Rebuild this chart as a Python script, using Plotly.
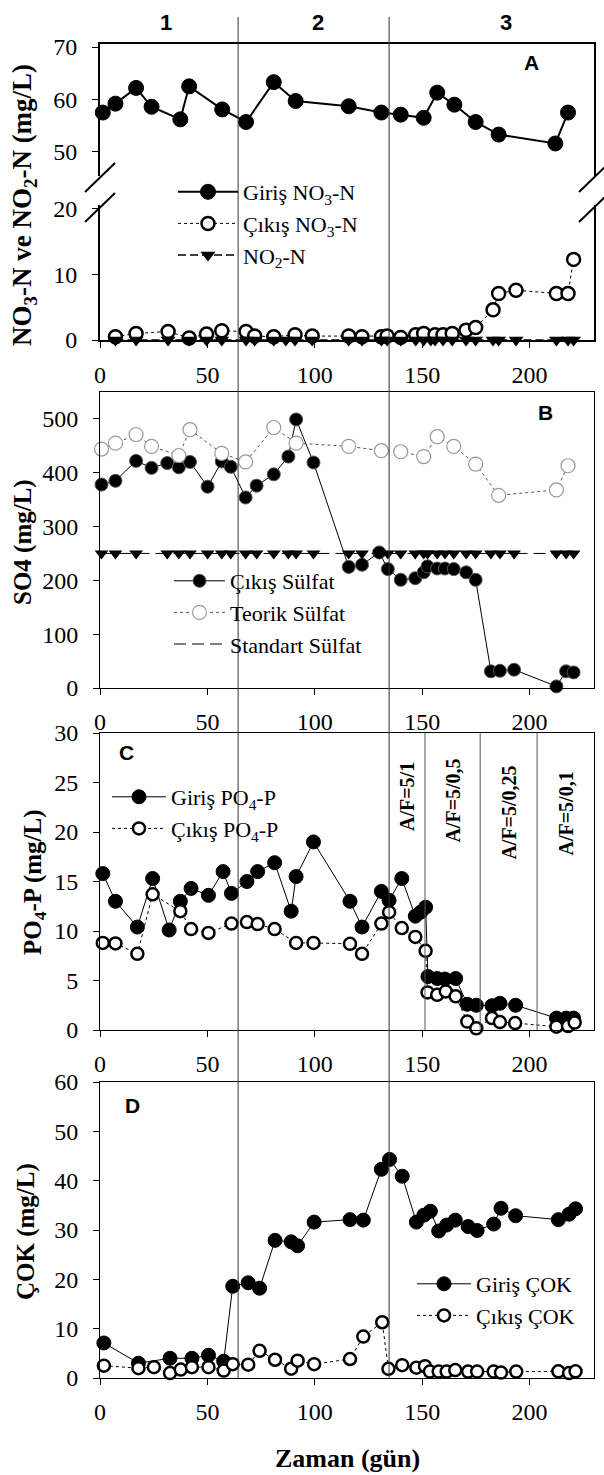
import plotly.graph_objects as go

# ---------------- data ----------------
x_max = 230
x_ticks = [0, 50, 100, 150, 200]
phase_bounds = [64.3, 134.6]          # days separating periods 1 | 2 | 3
phase_labels = ["1", "2", "3"]
af_bounds = [151.3, 177.0, 203.5]     # A/F ratio changes inside period 3
af_labels = ["A/F=5/1", "A/F=5/0,5", "A/F=5/0,25", "A/F=5/0,1"]

# Panel A : NO3-N / NO2-N
a_in_days = [1.3, 7.2, 16.8, 24.0, 37.4, 41.5, 56.9, 68.0, 80.9, 91.1, 115.8, 131.0,
             140.0, 150.7, 157.0, 165.0, 174.9, 185.6, 212.0, 217.9]
a_in_no3 = [57.5, 59.2, 62.2, 58.6, 56.2, 62.5, 58.1, 55.7, 63.3, 59.7, 58.7, 57.5,
            57.1, 56.5, 61.3, 59.0, 55.7, 53.3, 51.6, 57.5]
a_out_days = [7.2, 16.8, 31.7, 41.5, 49.6, 56.7, 68.0, 72.0, 80.9, 90.8, 98.8, 115.8,
              122.0, 131.0, 133.7, 140.0, 147.0, 150.7, 156.0, 159.7, 164.0, 170.4,
              174.9, 183.0, 185.6, 193.7, 212.5, 217.9, 220.5]
a_out_no3 = [0.5, 1.0, 1.3, 0.3, 0.9, 1.4, 1.3, 0.6, 0.5, 0.8, 0.6, 0.6,
             0.5, 0.5, 0.6, 0.4, 0.8, 1.0, 0.8, 0.8, 1.0, 1.5,
             1.9, 4.6, 7.1, 7.6, 7.1, 7.1, 12.3]
a_no2_days = [7.2, 16.8, 31.7, 41.5, 49.6, 56.7, 68.0, 72.0, 80.9, 86.5, 90.8, 98.8,
              115.8, 122.0, 131.0, 133.7, 140.0, 147.0, 150.7, 154.0, 156.0, 159.7,
              164.0, 170.4, 174.9, 183.0, 185.6, 193.7, 212.5, 217.9, 220.5]
a_no2 = [0, 0, 0, 0, 0, 0, 0, 0, 0, 0, 0, 0,
         0, 0, 0, 0, 0, 0, 0, 0, 0, 0,
         0, 0, 0, 0, 0, 0, 0, 0, 0]

# Panel B : SO4
b_out_days = [0.7, 7.2, 16.8, 24.0, 31.3, 36.7, 41.9, 50.1, 56.7, 60.9, 67.8, 72.9,
              80.9, 87.7, 91.3, 99.4, 115.8, 122.0, 130.0, 134.0, 140.0, 146.8,
              150.7, 152.5, 157.0, 160.6, 164.7, 170.5, 174.9, 182.0, 186.2, 192.8,
              212.5, 217.0, 220.5]
b_out_so4 = [378, 385, 422, 409, 418, 410, 420, 374, 421, 411, 354, 376,
             397, 430, 499, 419, 225, 229, 252, 221, 201, 204,
             215, 226, 222, 222, 221, 215, 201, 31, 32, 34,
             3, 31, 29]
b_theo_days = [0.7, 7.2, 16.8, 24.0, 36.7, 41.9, 56.7, 67.8, 80.9, 91.3, 115.8, 131.0,
               140.0, 150.7, 157.0, 164.7, 174.9, 185.6, 212.5, 217.9]
b_theo_so4 = [444, 455, 471, 449, 432, 480, 436, 420, 484, 455, 449, 441,
              439, 430, 467, 449, 416, 358, 368, 413]
b_std_days = [0.7, 7.2, 16.8, 31.3, 36.7, 41.9, 50.1, 56.7, 60.9, 67.8, 72.9,
              80.9, 87.7, 91.3, 99.4, 115.8, 122.0, 130.0, 134.0, 140.0, 146.8,
              150.7, 152.5, 157.0, 160.6, 164.7, 170.5, 174.9, 182.0, 186.2, 192.8,
              212.5, 217.0, 220.5]
b_std_so4 = [250, 250, 250, 250, 250, 250, 250, 250, 250, 250, 250,
             250, 250, 250, 250, 250, 250, 250, 250, 250, 250,
             250, 250, 250, 250, 250, 250, 250, 250, 250, 250,
             250, 250, 250]

# Panel C : PO4-P
c_in_days = [1.3, 7.2, 17.4, 24.5, 32.2, 37.4, 42.4, 50.5, 57.3, 61.2, 68.4, 73.4,
             81.3, 89.0, 91.3, 99.4, 116.4, 122.0, 131.0, 134.6, 140.5, 146.8,
             149.3, 151.6, 152.7, 157.0, 160.6, 165.6, 171.0, 175.2, 182.5, 186.2,
             193.5, 212.5, 217.0, 220.5]
c_in_po4 = [15.8, 13.0, 10.4, 15.3, 10.1, 13.0, 14.3, 13.6, 16.0, 13.8, 15.0, 16.0,
            16.9, 12.0, 15.5, 19.0, 13.0, 10.4, 14.0, 13.1, 15.3, 11.5,
            11.9, 12.4, 5.4, 5.2, 5.15, 5.2, 2.6, 2.5, 2.45, 2.7,
            2.5, 1.2, 1.2, 1.2]
c_out_days = [1.3, 7.2, 17.4, 24.5, 37.4, 42.4, 50.5, 61.2, 68.4, 73.4, 81.3, 91.3,
              99.4, 116.4, 122.0, 131.0, 134.6, 140.5, 146.8, 151.6, 152.5, 157.0,
              161.0, 165.6, 171.0, 175.2, 182.5, 186.2, 193.3, 212.5, 217.9, 221.0]
c_out_po4 = [8.8, 8.75, 7.7, 13.7, 12.0, 10.2, 9.8, 10.75, 10.9, 10.7, 10.2, 8.8,
             8.8, 8.7, 7.7, 10.75, 11.9, 10.3, 9.4, 8.0, 3.8, 3.55,
             3.9, 3.4, 0.85, 0.17, 1.2, 0.8, 0.7, 0.34, 0.4, 0.75]

# Panel D : COK (DOC)
d_in_days = [1.8, 17.9, 32.6, 42.8, 50.5, 57.6, 61.8, 69.0, 74.3, 81.5, 89.0, 92.0,
             99.7, 116.4, 122.6, 131.0, 134.8, 140.7, 147.3, 150.8, 153.8, 157.7,
             161.4, 165.4, 171.4, 175.6, 183.3, 186.7, 193.5, 213.4, 218.4, 221.4]
d_in_cok = [7.1, 3.0, 4.0, 4.0, 4.6, 3.4, 18.6, 19.3, 18.2, 27.9, 27.6, 26.8,
            31.6, 32.1, 32.0, 42.3, 44.3, 40.9, 31.6, 33.0, 33.8, 29.8,
            31.0, 32.0, 30.7, 29.9, 31.2, 34.4, 32.9, 32.1, 33.2, 34.3]
d_out_days = [1.8, 17.9, 25.1, 32.6, 37.6, 42.8, 50.5, 57.6, 61.8, 69.0, 74.3, 81.5,
              89.0, 92.0, 99.7, 116.4, 122.6, 131.4, 134.3, 140.7, 147.3, 151.3,
              153.6, 157.7, 161.4, 165.4, 171.4, 175.6, 183.3, 186.7, 193.8, 213.4,
              218.4, 221.4]
d_out_cok = [2.5, 2.0, 2.2, 1.0, 1.7, 2.2, 2.2, 1.5, 2.8, 2.7, 5.5, 3.7,
             1.9, 3.5, 2.8, 3.85, 8.4, 11.3, 1.85, 2.6, 2.1, 2.4,
             1.3, 1.3, 1.3, 1.6, 1.3, 1.3, 1.3, 1.1, 1.3, 1.35,
             1.0, 1.35]

# ---------------- geometry helpers ----------------
W, H = 604, 1475
ML, MR = 100, 10
PW = W - ML - MR


def px(p):
    return (p - ML) / PW


def py(p):
    return 1 - p / H


SERIF = "Liberation Serif, Times New Roman, serif"
SANS = "Liberation Sans, Arial, sans-serif"

filled = dict(symbol="circle", size=14, color="black", line=dict(color="black", width=1))
opened = dict(symbol="circle", size=12, color="white", line=dict(color="black", width=2.5))
tri = dict(symbol="triangle-down", size=13, color="black", line=dict(width=0))

fig = go.Figure()


def add(x, y, name, xa, ya, legend, mode, line, marker, showlegend=True):
    fig.add_trace(go.Scatter(x=x, y=y, name=name, xaxis=xa, yaxis=ya, legend=legend,
                             mode=mode, line=line, marker=marker,
                             showlegend=showlegend, cliponaxis=False))


# Panel A
add(a_in_days, a_in_no3, "Giriş NO<sub>3</sub>-N", "x2", "y2", "legend", "lines+markers",
    dict(color="black", width=2), dict(filled, size=15))
add(a_out_days, a_out_no3, "Çıkış NO<sub>3</sub>-N", "x", "y", "legend", "lines+markers",
    dict(color="black", width=1, dash="dot"), dict(opened, size=13))
add(a_no2_days, a_no2, "NO<sub>2</sub>-N", "x", "y", "legend", "lines+markers",
    dict(color="black", width=1.5, dash="8px,4px"), tri)

# Panel B
add(b_out_days, b_out_so4, "Çıkış Sülfat", "x3", "y3", "legend2", "lines+markers",
    dict(color="black", width=1), dict(filled, size=13, line=dict(color="#555", width=1)))
add(b_theo_days, b_theo_so4, "Teorik Sülfat", "x3", "y3", "legend2", "lines+markers",
    dict(color="#555", width=1, dash="dot"),
    dict(symbol="circle", size=14, color="white", line=dict(color="#999", width=1.2)))
add(b_std_days, b_std_so4, "Standart Sülfat", "x3", "y3", "legend2", "lines",
    dict(color="black", width=1, dash="12px,6px"), None)
add(b_std_days, b_std_so4, "Standart Sülfat", "x3", "y3", "legend2", "markers",
    None, dict(tri, size=12), showlegend=False)

# Panel C
add(c_in_days, c_in_po4, "Giriş PO<sub>4</sub>-P", "x4", "y4", "legend3", "lines+markers",
    dict(color="black", width=1), filled)
add(c_out_days, c_out_po4, "Çıkış PO<sub>4</sub>-P", "x4", "y4", "legend3", "lines+markers",
    dict(color="black", width=1, dash="dot"), opened)

# Panel D
add(d_in_days, d_in_cok, "Giriş ÇOK", "x5", "y5", "legend4", "lines+markers",
    dict(color="black", width=1), filled)
add(d_out_days, d_out_cok, "Çıkış ÇOK", "x5", "y5", "legend4", "lines+markers",
    dict(color="black", width=1, dash="dot"), opened)

# ---------------- axes ----------------
tickfont = dict(family=SERIF, size=24, color="black")
base = dict(showline=True, linecolor="black", showgrid=False, zeroline=False,
            ticks="outside", ticklen=6, tickwidth=1, tickcolor="black", tickfont=tickfont)
xbase = dict(base, range=[0, x_max], tickvals=x_ticks, domain=[0, 1], ticklabelstandoff=6)
ybase = dict(base, ticklabelstandoff=10, mirror=True)

layout_axes = dict(
    xaxis=dict(xbase, anchor="y", linewidth=2),
    yaxis=dict(ybase, domain=[py(340), py(205)], range=[0, 20.6], tickvals=[0, 10, 20], linewidth=2),
    xaxis2=dict(showline=True, linecolor="black", linewidth=2, side="top", anchor="y2",
                matches="x", showticklabels=False, ticks="", showgrid=False, zeroline=False,
                domain=[0, 1]),
    yaxis2=dict(ybase, domain=[py(176), py(43.5)], range=[45.4, 70.67], tickvals=[50, 60, 70], linewidth=2),
    xaxis3=dict(xbase, anchor="y3", mirror=True),
    yaxis3=dict(ybase, domain=[py(688), py(392)], range=[0, 550], tickvals=[0, 100, 200, 300, 400, 500]),
    xaxis4=dict(xbase, anchor="y4", mirror=True),
    yaxis4=dict(ybase, domain=[py(1030), py(733)], range=[0, 30], tickvals=[0, 5, 10, 15, 20, 25, 30]),
    xaxis5=dict(xbase, anchor="y5", mirror=True),
    yaxis5=dict(ybase, domain=[py(1378), py(1082)], range=[0, 60], tickvals=[0, 10, 20, 30, 40, 50, 60]),
)


def leg(xpix, ytop, iw):
    return dict(x=px(xpix), y=py(ytop), xanchor="left", yanchor="top",
                bgcolor="rgba(0,0,0,0)", borderwidth=0, itemwidth=iw, tracegroupgap=0,
                font=dict(family=SERIF, size=22, color="black"))


# ---------------- shapes ----------------
shapes = []
for b in phase_bounds:
    shapes.append(dict(type="line", xref="x", yref="paper", x0=b, x1=b,
                       y0=py(1378), y1=py(17), line=dict(color="#333", width=1)))
for b in af_bounds:
    shapes.append(dict(type="line", xref="x4", yref="y4 domain", x0=b, x1=b, y0=0, y1=1,
                       line=dict(color="#555", width=1)))
# axis-break marks
for xc in (ML, ML + PW):
    for yc in (177.5, 207.5):
        shapes.append(dict(type="line", xref="paper", yref="paper",
                           x0=px(xc - 15), x1=px(xc + 15), y0=py(yc + 14.5), y1=py(yc - 14.5),
                           line=dict(color="black", width=2)))

# ---------------- annotations ----------------
ann = []


def note(text, x, y, font, xref="paper", angle=0):
    ann.append(dict(text=text, xref=xref, yref="paper", x=x, y=y, textangle=angle,
                    xanchor="center", yanchor="middle", showarrow=False, font=font))


tfont = dict(family=SERIF, size=25, color="black")
note("<b>NO<sub>3</sub>-N ve NO<sub>2</sub>-N (mg/L)</b>", px(24), py(205),
     dict(family=SERIF, size=27, color="black"), angle=-90)
note("<b>SO4 (mg/L)</b>", px(23), py(542), tfont, angle=-90)
note("<b>PO<sub>4</sub>-P (mg/L)</b>", px(34), py(882), tfont, angle=-90)
note("<b>ÇOK (mg/L)</b>", px(26), py(1232), tfont, angle=-90)
note("<b>Zaman (gün)</b>", 0.5, py(1458), dict(family=SERIF, size=26, color="black"))

lfont = dict(family=SANS, size=21, color="black")
for t, (xx, yy) in zip(["A", "B", "C", "D"], [(531, 63), (545, 412), (126, 753), (132, 1105)]):
    note(f"<b>{t}</b>", px(xx), py(yy), lfont)
for t, xx in zip(phase_labels, [166, 318, 506]):
    note(f"<b>{t}</b>", px(xx), py(23), dict(family=SANS, size=22, color="black"))

af_edges = [phase_bounds[1]] + af_bounds + [x_max]
for i, (t, yy) in enumerate(zip(af_labels, [797, 801, 813, 814])):
    note(f"<b>{t}</b>", (af_edges[i] + af_edges[i + 1]) / 2, py(yy),
         dict(family=SERIF, size=20, color="black"), xref="x4", angle=-90)

fig.update_layout(
    width=W, height=H, autosize=False, template="none",
    margin=dict(l=ML, r=MR, t=0, b=0),
    paper_bgcolor="white", plot_bgcolor="white",
    font=dict(family=SERIF, color="black"),
    hovermode=False,
    legend=leg(173, 171, 60),
    legend2=leg(169, 560, 51),
    legend3=leg(107, 776, 54),
    legend4=leg(412, 1263, 54),
    shapes=shapes, annotations=ann,
    **layout_axes,
)

fig.write_html("out.html", config={"displayModeBar": False, "staticPlot": False},
               post_script="document.body.style.margin='0px';")
